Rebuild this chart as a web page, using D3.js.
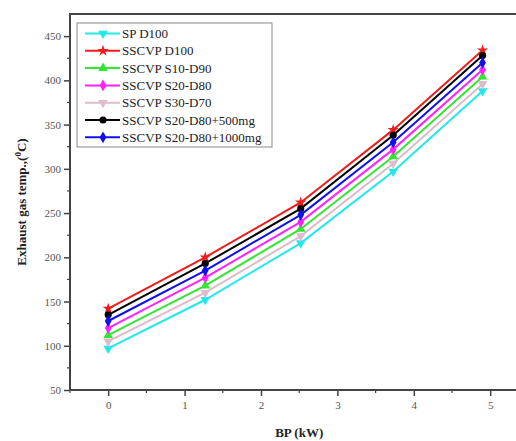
<!DOCTYPE html>
<html>
<head>
<meta charset="utf-8">
<script src="https://cdn.jsdelivr.net/npm/d3@7"></script>
<style>
  html, body { margin: 0; padding: 0; background: #fff; overflow: hidden; }
  #chart { width: 516px; height: 441px; overflow: hidden; }
</style>
</head>
<body>
<div id="chart"></div>
<script>
// -----------------------------
// Data
// -----------------------------
const bpValues = [0, 1.27, 2.52, 3.73, 4.9];

const seriesNames = [
  "SP D100",
  "SSCVP D100",
  "SSCVP S10-D90",
  "SSCVP S20-D80",
  "SSCVP S30-D70",
  "SSCVP S20-D80+500mg",
  "SSCVP S20-D80+1000mg"
];

const spD100       = [97, 152, 216, 297, 388];
const sscvpD100    = [142, 200, 262, 344, 434];
const sscvpS10D90  = [112, 168, 232, 314, 404];
const sscvpS20D80  = [120, 177, 240, 322, 412];
const sscvpS30D70  = [105, 160, 224, 306, 396];
const sscvp500mg   = [135, 193, 255, 338, 428];
const sscvp1000mg  = [128, 185, 248, 330, 420];

const seriesValues = [spD100, sscvpD100, sscvpS10D90, sscvpS20D80, sscvpS30D70, sscvp500mg, sscvp1000mg];

const seriesColors = ["#22e8ee", "#ee1c1c", "#33e633", "#ff22ff", "#ddbbcc", "#000000", "#1010ee"];
const seriesSymbols = [d3.symbolTriangle, d3.symbolStar, d3.symbolTriangle, d3.symbolDiamond, d3.symbolTriangle, d3.symbolCircle, d3.symbolDiamond];
const symbolRotate = [180, 0, 0, 0, 180, 0, 0];

const yTicks = [50, 100, 150, 200, 250, 300, 350, 400, 450];
const xTicks = [0, 1, 2, 3, 4, 5];

// -----------------------------
// Setup
// -----------------------------
const width = 516, height = 441;
const margin = { top: 14, left: 70, bottom: 51 };
const serif = "'Liberation Serif', 'DejaVu Serif', serif";

const svg = d3.select("#chart").append("svg")
  .attr("width", width)
  .attr("height", height)
  .style("display", "block");

const x = d3.scaleLinear().domain([-0.5, 5.5]).range([margin.left, margin.left + 6 * 76.4]);
const y = d3.scaleLinear().domain([50, 475]).range([height - margin.bottom, margin.top]);

const axisColor = "#444";
const labelColor = "#555";

// -----------------------------
// Axes
// -----------------------------
const yMinor = d3.range(75, 475, 50);
const xMinor = d3.range(-0.5, 5.6, 0.5).filter(v => !xTicks.includes(v));

const yAxis = svg.append("g")
  .attr("transform", `translate(${margin.left},0)`)
  .call(d3.axisLeft(y).tickValues(yTicks).tickSize(6).tickSizeOuter(0).tickPadding(3));
yAxis.attr("font-family", serif).attr("font-size", 11);
yAxis.select(".domain").remove();
yAxis.selectAll("line").attr("stroke", axisColor).attr("stroke-width", 1.5);
yAxis.selectAll("text").attr("fill", labelColor);

svg.append("g").selectAll("line").data(yMinor).join("line")
  .attr("x1", margin.left - 3).attr("x2", margin.left)
  .attr("y1", d => y(d)).attr("y2", d => y(d))
  .attr("stroke", axisColor).attr("stroke-width", 1.2);

const xAxis = svg.append("g")
  .attr("transform", `translate(0,${y(50)})`)
  .call(d3.axisBottom(x).tickValues(xTicks).tickFormat(d3.format("d"))
    .tickSize(6).tickSizeOuter(0).tickPadding(5));
xAxis.attr("font-family", serif).attr("font-size", 11);
xAxis.select(".domain").remove();
xAxis.selectAll("line").attr("stroke", axisColor).attr("stroke-width", 1.5);
xAxis.selectAll("text").attr("fill", labelColor);

svg.append("g").selectAll("line").data(xMinor).join("line")
  .attr("x1", d => x(d)).attr("x2", d => x(d))
  .attr("y1", y(50)).attr("y2", y(50) + 3)
  .attr("stroke", axisColor).attr("stroke-width", 1.2);

// frame (right side falls outside the picture)
svg.append("path")
  .attr("d", `M${x(5.5)},${y(475)}H${margin.left}V${y(50)}H${x(5.5)}`)
  .attr("fill", "none")
  .attr("stroke", axisColor)
  .attr("stroke-width", 2);

// -----------------------------
// Lines and markers
// -----------------------------
const line = d3.line()
  .x((d, i) => x(bpValues[i]))
  .y(d => y(d));

seriesValues.forEach((vals, s) => {
  svg.append("path")
    .datum(vals)
    .attr("fill", "none")
    .attr("stroke", seriesColors[s])
    .attr("stroke-width", 2)
    .attr("d", line);
});

seriesValues.forEach((vals, s) => {
  svg.append("g").selectAll("path")
    .data(vals)
    .join("path")
    .attr("d", d3.symbol().type(seriesSymbols[s]).size(40))
    .attr("transform", (d, i) => `translate(${x(bpValues[i])},${y(d)}) rotate(${symbolRotate[s]})`)
    .attr("fill", seriesColors[s]);
});

// -----------------------------
// Legend
// -----------------------------
const legend = svg.append("g").attr("transform", "translate(77,23)");
legend.append("rect")
  .attr("width", 195).attr("height", 124)
  .attr("fill", "#fff").attr("stroke", "#888").attr("stroke-width", 1);

seriesNames.forEach((name, i) => {
  const ly = 10.5 + i * 17.3;
  legend.append("line")
    .attr("x1", 8).attr("x2", 43).attr("y1", ly).attr("y2", ly)
    .attr("stroke", seriesColors[i]).attr("stroke-width", 2);
  legend.append("path")
    .attr("d", d3.symbol().type(seriesSymbols[i]).size(40))
    .attr("transform", `translate(26,${ly}) rotate(${symbolRotate[i]})`)
    .attr("fill", seriesColors[i]);
  legend.append("text")
    .attr("x", 45).attr("y", ly + 4.5)
    .attr("fill", "#222")
    .attr("font-family", serif)
    .attr("font-size", 13)
    .text(name);
});

// -----------------------------
// Axis titles
// -----------------------------
svg.append("text")
  .attr("x", x(2.5))
  .attr("y", 437)
  .attr("text-anchor", "middle")
  .attr("fill", "#222")
  .attr("font-family", serif)
  .attr("font-size", 13)
  .attr("font-weight", "bold")
  .text("BP (kW)");

const yTitle = svg.append("text")
  .attr("transform", `translate(26,${(y(50) + y(475)) / 2}) rotate(-90)`)
  .attr("text-anchor", "middle")
  .attr("fill", "#222")
  .attr("font-family", serif)
  .attr("font-size", 13)
  .attr("font-weight", "bold");
yTitle.append("tspan").text("Exhaust gas temp.,(");
yTitle.append("tspan").attr("dy", -5).attr("font-size", 9).text("0");
yTitle.append("tspan").attr("dy", 5).text("C)");
</script>
</body>
</html>
